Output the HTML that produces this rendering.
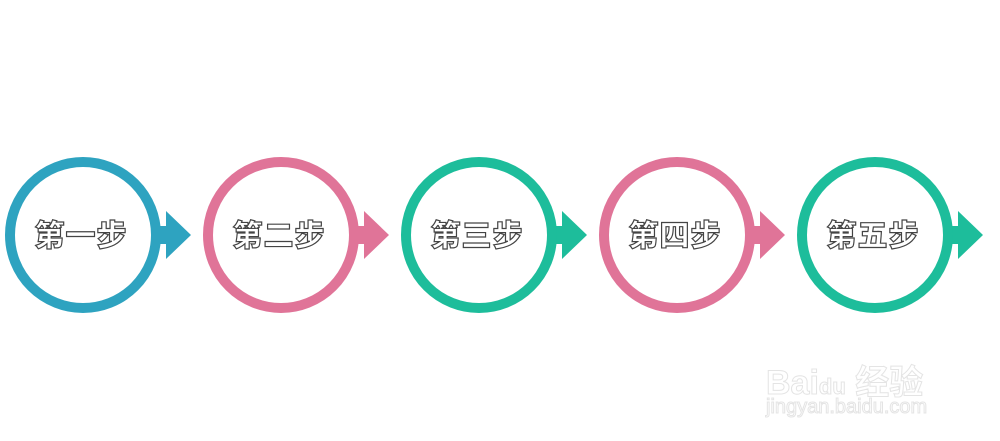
<!DOCTYPE html>
<html><head><meta charset="utf-8"><style>
body{margin:0;width:1000px;height:441px;background:#fff;overflow:hidden;position:relative;font-family:"Liberation Sans","Noto Sans CJK SC",sans-serif}
.s{position:absolute;top:157px;width:200px;height:156px}
.c{position:absolute;left:5px;top:0;width:136px;height:136px;border:10px solid;border-radius:50%;background:#fff;z-index:2}
.st{position:absolute;left:150px;top:69px;width:20px;height:18px}
.tr{position:absolute;left:166px;top:54px;width:0;height:0;border-top:24px solid transparent;border-bottom:24px solid transparent;border-left:25px solid}
.t{position:absolute;left:3px;top:-2px;width:156px;height:156px;line-height:156px;text-align:center;font-size:30px;font-weight:900;color:#fff;-webkit-text-stroke:1.2px #444;z-index:3;letter-spacing:1px;font-family:"Noto Sans CJK SC",sans-serif}
.wm{position:absolute;color:#fff;-webkit-text-stroke:1px #e4e4e4;font-weight:bold}
</style></head><body>
<div class="s" style="left:0px"><div class="c" style="border-color:#2ea3c0"></div><div class="st" style="background:#2ea3c0"></div><div class="tr" style="border-left-color:#2ea3c0"></div><div class="t">第一步</div></div>
<div class="s" style="left:198px"><div class="c" style="border-color:#e07498"></div><div class="st" style="background:#e07498"></div><div class="tr" style="border-left-color:#e07498"></div><div class="t">第二步</div></div>
<div class="s" style="left:396px"><div class="c" style="border-color:#1dbd9b"></div><div class="st" style="background:#1dbd9b"></div><div class="tr" style="border-left-color:#1dbd9b"></div><div class="t">第三步</div></div>
<div class="s" style="left:594px"><div class="c" style="border-color:#e07498"></div><div class="st" style="background:#e07498"></div><div class="tr" style="border-left-color:#e07498"></div><div class="t">第四步</div></div>
<div class="s" style="left:792px"><div class="c" style="border-color:#1dbd9b"></div><div class="st" style="background:#1dbd9b"></div><div class="tr" style="border-left-color:#1dbd9b"></div><div class="t">第五步</div></div>
<div class="wm" style="left:766px;top:355px;font-size:34px">Bai<span style="font-size:22px">du</span> 经验</div>
<div class="wm" style="left:766px;top:396px;font-size:20px;font-weight:normal">jingyan.baidu.com</div>
</body></html>
